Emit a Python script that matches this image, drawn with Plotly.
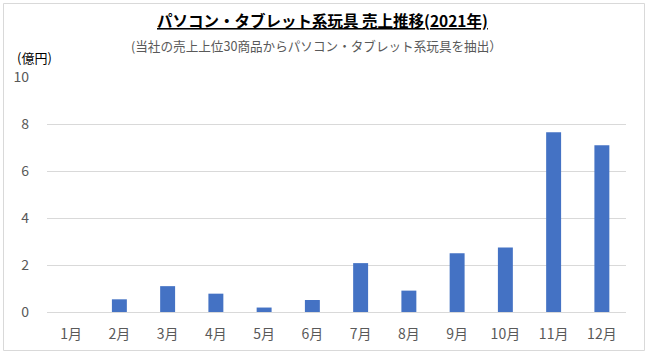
import plotly.graph_objects as go

months = ["1月", "2月", "3月", "4月", "5月", "6月", "7月", "8月", "9月", "10月", "11月", "12月"]
sales = [0.0, 0.54, 1.10, 0.78, 0.19, 0.51, 2.08, 0.91, 2.50, 2.75, 7.65, 7.10]
y_ticks = [0, 2, 4, 6, 8, 10]

title_text = "パソコン・タブレット系玩具 売上推移(2021年)"
subtitle_text = "(当社の売上上位30商品からパソコン・タブレット系玩具を抽出）"
unit_text = "(億円)"

W, H = 650, 356
ML, MR, MT, MB = 47, 24, 77, 44
PW, PH = W - ML - MR, H - MT - MB

def px_x(p):
    return (p - ML) / PW

def px_y(p):
    return (H - MB - p) / PH

FONT = "Noto Sans CJK JP, Meiryo, sans-serif"
GRAY = "#595959"

fig = go.Figure(go.Bar(x=months, y=sales, marker=dict(color="#4472C4", line=dict(width=0))))

fig.update_layout(
    width=W, height=H,
    margin=dict(l=ML, r=MR, t=MT, b=MB),
    paper_bgcolor="white", plot_bgcolor="white",
    bargap=0.69,
    showlegend=False,
    font=dict(family=FONT, color=GRAY, size=14),
    xaxis=dict(showgrid=False, showline=False, ticks="", tickfont=dict(size=14, color=GRAY),
               ticklabelstandoff=12),
    yaxis=dict(range=[0, 10], tickvals=y_ticks, showgrid=True, gridcolor="#d9d9d9", gridwidth=1,
               zeroline=True, zerolinecolor="#d9d9d9", zerolinewidth=1, showline=False, ticks="",
               tickfont=dict(size=14, color=GRAY), ticklabelstandoff=17),
    shapes=[dict(type="rect", xref="paper", yref="paper",
                 x0=px_x(3.5), x1=px_x(644.5), y0=px_y(350.5), y1=px_y(3.5),
                 line=dict(color="#d9d9d9", width=1), fillcolor="rgba(0,0,0,0)", layer="below")],
    annotations=[
        dict(text=title_text, xref="paper", yref="paper", x=px_x(322), y=px_y(20),
             xanchor="center", yanchor="middle", showarrow=False,
             font=dict(family=FONT, size=15.5, color="#000000", weight="bold", lineposition="under")),
        dict(text=subtitle_text, xref="paper", yref="paper", x=px_x(316), y=px_y(46),
             xanchor="center", yanchor="middle", showarrow=False,
             font=dict(family=FONT, size=12.6, color=GRAY)),
        dict(text=unit_text, xref="paper", yref="paper", x=px_x(34), y=px_y(57),
             xanchor="center", yanchor="middle", showarrow=False,
             font=dict(family=FONT, size=13, color="#000000")),
    ],
)

fig.write_html("out.html", config={"displayModeBar": False},
               post_script="document.body.style.margin='0';document.body.style.padding='0';")
